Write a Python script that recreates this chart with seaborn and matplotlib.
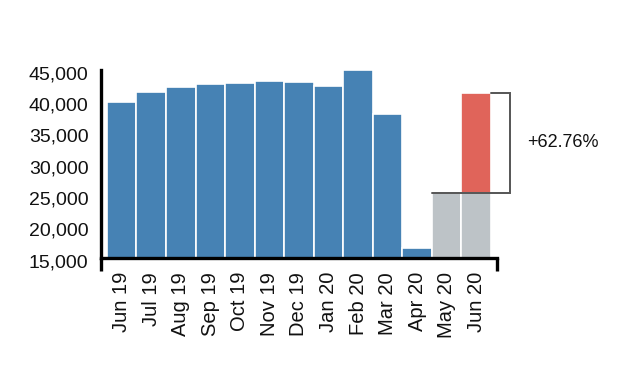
import numpy as np
import pandas as pd
import matplotlib
matplotlib.use("Agg")
import matplotlib.pyplot as plt
import matplotlib.transforms as mtransforms
import seaborn as sns

# data
months = ["Jun 19", "Jul 19", "Aug 19", "Sep 19", "Oct 19", "Nov 19", "Dec 19",
          "Jan 20", "Feb 20", "Mar 20", "Apr 20", "May 20", "Jun 20"]
values = [39850, 41430, 42230, 42760, 42920, 43290, 43080,
          42490, 44950, 38070, 16540, 25400, 41340]
bar_colors = ["#4682b4"] * 11 + ["#bdc3c7", "#e0645a"]
base_month = "May 20"
change_label = "+62.76%"
y_ticks = [15000, 20000, 25000, 30000, 35000, 40000, 45000]

sns.set_theme(style="white")
plt.rcParams['font.family'] = ['Liberation Sans', 'DejaVu Sans']

df = pd.DataFrame({"month": months, "value": values})
base_value = values[months.index(base_month)]
# gray part of the last bar = previous month's level
overlay = pd.DataFrame({"month": [months[-1]], "value": [base_value]})

fig = plt.figure(figsize=(6.27, 3.67), dpi=100)
ax = fig.add_axes([0.161, 0.297, 0.632, 0.512])

sns.barplot(data=df, x="month", y="value", hue="month", order=months,
            palette=bar_colors, legend=False, width=1.0, saturation=1,
            edgecolor=(1, 1, 1, 0.7), linewidth=1.2, ax=ax)
sns.barplot(data=overlay, x="month", y="value", order=months,
            color="#bdc3c7", width=1.0, saturation=1,
            edgecolor=(1, 1, 1, 0.7), linewidth=1.2, ax=ax)
for p in ax.patches:
    p.set_alpha(1)

xmin, xmax = -0.7, len(months) - 1 + 0.71
ax.set_xlim(xmin, xmax)
ax.set_ylim(y_ticks[0], y_ticks[-1])

# change bracket between last two months
last = len(months) - 1
bx = last + 0.5 + 0.63
ax.plot([last + 0.5, bx, bx, last - 1.5],
        [values[-1], values[-1], base_value, base_value],
        color="#555555", lw=1.4, solid_joinstyle="miter", clip_on=False)
ax.text(bx + 0.6, (values[-1] + base_value) / 2, change_label,
        fontsize=13, ha="left", va="center", color="#111111")

ax.set_yticks(y_ticks)
ax.set_yticklabels([f"{v:,}" for v in y_ticks])
ax.set_yticks([y_ticks[0], y_ticks[-1]], minor=True)
ax.set_xticks(range(len(months)))
ax.set_xticklabels(months, rotation=90)
ax.set_xticks([xmin, xmax], minor=True)

ax.tick_params(axis="y", which="major", length=0, pad=9, labelsize=14,
               labelcolor="#111111")
ax.tick_params(axis="y", which="minor", length=9, width=2.4, color="black",
               left=True)
ax.tick_params(axis="x", which="major", length=0, pad=10, labelsize=14.5,
               labelcolor="#111111")
ax.tick_params(axis="x", which="minor", length=9, width=2.4, color="black",
               bottom=True)

# d3-style: y labels sit a little below their tick
shift = mtransforms.ScaledTranslation(0, -2.5 / 100, fig.dpi_scale_trans)
for lbl in ax.get_yticklabels():
    lbl.set_transform(lbl.get_transform() + shift)

for side in ["top", "right"]:
    ax.spines[side].set_visible(False)
for side in ["left", "bottom"]:
    ax.spines[side].set_color("black")
    ax.spines[side].set_linewidth(2.4)
    ax.spines[side].set_visible(True)

ax.set_xlabel("")
ax.set_ylabel("")
ax.grid(False)

fig.savefig("out.png", dpi=100)
